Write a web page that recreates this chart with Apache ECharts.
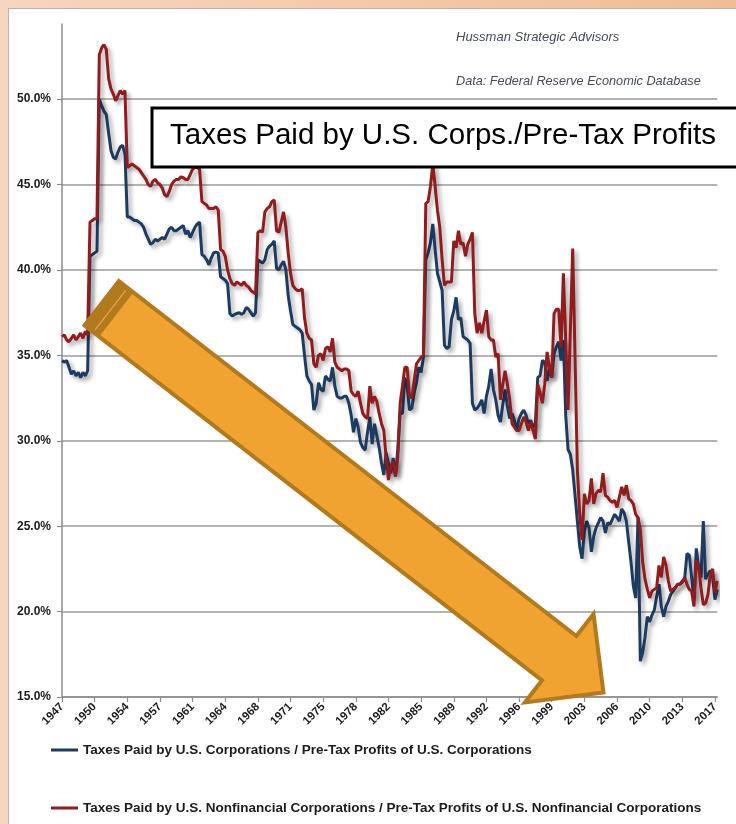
<!DOCTYPE html>
<html>
<head>
<meta charset="utf-8">
<script src="https://cdn.jsdelivr.net/npm/echarts@6/dist/echarts.min.js"></script>
<style>
html,body{margin:0;padding:0;width:736px;height:824px;overflow:hidden;}
body{background:linear-gradient(to right,#f6d6be,#f0bd95);position:relative;}
#paper{position:absolute;left:8px;top:8px;right:0;bottom:0;background:#fff;border-left:1px solid #b9b2ad;border-top:1px solid #b9b2ad;}
#chart{position:absolute;left:0;top:0;width:736px;height:824px;}
</style>
</head>
<body>
<div id="paper"></div>
<div id="chart"></div>
<script>
// Quarterly observations 1947Q1 .. 2017Q2
const startYear = 1947;
const xTickLabels = ['1947','1950','1954','1957','1961','1964','1968','1971','1975','1978','1982','1985','1989','1992','1996','1999','2003','2006','2010','2013','2017'];
const yTickValues = [15,20,25,30,35,40,45,50];

const seriesNames = [
  'Taxes Paid by U.S. Corporations / Pre-Tax Profits of U.S. Corporations',
  'Taxes Paid by U.S. Nonfinancial Corporations / Pre-Tax Profits of U.S. Nonfinancial Corporations'
];

const allCorps = [
34.7,34.6,34.7,34.3,33.9,34.1,33.8,34.0,33.7,34.0,
33.8,34.1,40.8,40.9,41.0,41.1,50.0,49.6,49.3,49.1,
48.0,47.0,46.6,46.5,46.9,47.2,47.3,46.8,43.1,43.1,
43.0,42.9,42.9,42.8,42.7,42.5,42.1,41.8,41.5,41.6,
41.8,41.7,41.8,41.9,41.8,42.1,42.4,42.5,42.3,42.3,
42.4,42.5,42.6,42.1,42.3,41.9,42.2,42.5,42.7,42.8,
40.9,40.8,40.6,40.3,40.7,41.0,41.05,41.0,39.6,39.5,
39.4,39.2,37.45,37.3,37.4,37.45,37.5,37.4,37.5,37.8,
37.7,37.5,37.3,37.5,40.6,40.5,40.4,40.6,41.2,41.4,
41.5,41.7,40.1,40.0,40.3,40.5,40.0,38.5,37.6,36.8,
36.7,36.6,36.5,36.3,35.0,33.8,33.5,33.3,31.8,32.2,
33.4,33.0,32.9,33.8,33.6,33.5,34.3,33.2,32.6,32.5,
32.5,32.6,32.6,32.2,31.5,30.5,31.3,30.8,29.9,29.6,
29.45,30.5,31.4,29.8,31.0,30.3,29.6,28.7,28.0,29.3,
28.7,28.1,29.0,28.0,29.5,31.6,31.6,33.7,33.2,31.8,
31.9,32.8,33.4,34.3,34.0,34.9,40.6,41.0,41.6,42.7,
41.2,39.8,39.3,38.8,35.6,35.4,35.5,37.1,37.6,38.4,
37.1,37.2,36.1,36.0,35.9,35.7,32.2,31.8,31.9,32.1,
32.4,31.6,32.6,33.2,34.2,33.0,32.4,31.5,31.1,32.1,
33.0,32.0,31.3,31.6,31.2,30.6,31.3,31.6,31.8,31.5,
31.0,31.2,30.8,31.0,33.7,33.8,34.7,34.6,33.5,34.2,
33.7,35.1,35.5,35.8,34.7,35.9,31.5,29.5,29.2,28.3,
26.8,25.3,23.8,23.1,24.7,25.3,24.9,23.5,24.4,24.9,
25.2,25.5,25.3,24.6,25.2,25.1,25.4,25.7,25.5,25.3,
26.0,25.8,25.3,24.1,22.9,21.5,20.8,25.5,17.1,17.6,
18.5,19.7,19.4,19.8,20.1,20.9,21.6,20.3,19.7,20.3,
20.6,21.0,21.2,21.4,21.6,21.6,21.8,21.9,23.4,23.3,
22.0,20.7,23.7,22.6,22.0,25.3,21.9,22.2,22.4,22.0,
20.7,21.3
];

const nonfinCorps = [
36.1,36.2,35.9,35.8,36.0,36.2,35.9,36.1,36.3,36.0,
36.4,36.2,42.8,42.9,43.0,43.0,52.6,53.0,53.2,52.9,
51.2,50.6,50.3,49.9,50.2,50.5,50.3,50.5,46.0,46.1,
46.2,46.1,46.0,45.9,45.7,45.5,45.3,45.0,44.9,45.2,
45.3,45.1,45.0,44.8,44.4,44.3,44.6,45.0,45.2,45.3,
45.3,45.45,45.4,45.3,45.3,45.6,45.9,46.0,46.0,45.9,
44.0,43.9,43.8,43.6,43.6,43.6,43.7,43.5,41.2,41.1,
40.8,40.0,39.5,39.2,39.1,39.3,39.2,39.1,39.3,39.1,
39.0,38.8,38.7,38.6,42.2,42.3,42.2,43.4,43.6,43.7,
44.0,44.1,42.3,42.2,42.8,43.4,42.5,41.0,39.8,39.1,
38.9,38.8,38.8,38.9,37.2,36.3,36.0,35.9,34.5,34.3,
35.0,35.1,34.7,35.4,35.5,35.2,36.0,34.6,34.3,34.2,
34.1,34.2,34.2,34.1,32.9,32.7,32.6,32.9,32.2,31.6,
31.4,31.3,33.2,32.2,32.6,32.3,31.6,31.0,30.6,29.0,
27.7,28.5,28.8,27.9,29.0,32.2,33.2,34.3,34.3,32.6,
32.5,33.5,34.5,34.7,34.9,35.0,43.9,44.0,44.9,46.2,
44.9,43.5,42.5,40.6,39.1,39.3,39.3,39.3,41.7,41.3,
42.3,41.5,41.6,40.8,41.5,41.8,42.2,37.45,36.3,36.9,
36.3,37.0,37.65,36.1,35.9,35.9,34.9,35.1,32.4,33.3,
34.1,33.3,32.4,31.0,30.8,30.6,30.6,31.0,31.4,31.1,
30.6,31.1,30.6,30.1,33.3,32.8,32.2,33.3,35.2,34.3,
33.7,37.45,37.7,37.7,35.5,39.8,35.9,31.8,36.5,41.25,
34.9,28.3,25.7,24.2,26.9,26.3,26.5,27.8,26.3,26.9,
27.1,27.0,28.1,26.8,26.7,26.5,26.4,26.5,26.1,26.7,
27.3,26.8,27.4,26.6,26.5,26.3,25.7,25.5,24.8,22.9,
21.9,21.3,20.8,21.2,21.3,21.4,22.7,22.0,23.2,22.7,
21.8,21.2,21.3,21.4,21.6,21.6,21.7,22.0,21.6,21.3,
21.2,20.3,23.0,22.6,21.4,20.4,20.5,21.0,22.2,22.5,
21.1,21.8
];

// category axis: one entry per quarter
const quarters = allCorps.map((_, i) => (startYear + Math.floor(i / 4)) + 'Q' + (i % 4 + 1));
const tickStep = 14;

const FONT = '"Liberation Sans",Arial,sans-serif';

// decorative arrow (annotation)
function arrowShapes() {
  const T = [101.7, 303.3];
  const th = 37.8 * Math.PI / 180;
  const u = [Math.cos(th), Math.sin(th)], n = [-Math.sin(th), Math.cos(th)];
  const P = (a, b) => [T[0] + a * u[0] + b * n[0], T[1] + a * u[1] + b * n[1]];
  const w = 28, hb = 579, hw = 56, tip = 635;
  const outline = [P(0,-w),P(hb,-w),P(hb,-hw),P(tip,0),P(hb,hw),P(hb,w),P(0,w)];
  const band = [P(0,-w),P(18,-w),P(18,w),P(0,w)];
  return [
    {type:'polygon', z:100, shape:{points:outline}, style:{fill:'#f0a331', stroke:'#b27a1f', lineWidth:4, lineJoin:'miter'}},
    {type:'polygon', z:101, shape:{points:band}, style:{fill:'#b27a1f', stroke:'#b27a1f', lineWidth:1}},
    {type:'polyline', z:102, shape:{points:[P(11,-w+3),P(11,w-3)]}, style:{stroke:'#e8a73d', lineWidth:1.2}}
  ];
}

const chart = echarts.init(document.getElementById('chart'), null, {renderer:'canvas'});
chart.setOption({
  animation:false,
  backgroundColor:'transparent',
  grid:{left:62, top:24, right:18.7, bottom:127, containLabel:false},
  legend:{
    orient:'vertical', left:46, top:737, itemGap:42, itemWidth:27, itemHeight:3, icon:'rect',
    textStyle:{fontFamily:FONT, fontSize:13.5, fontWeight:'bold', color:'#1c1c1c', lineHeight:16},
    data:seriesNames
  },
  xAxis:{
    type:'category', data:quarters, boundaryGap:false,
    axisLine:{lineStyle:{color:'#8c8c8c', width:1.5}},
    axisTick:{show:true, interval:tickStep-1, length:5, lineStyle:{color:'#8c8c8c', width:1.2}},
    axisLabel:{interval:tickStep-1, rotate:45, margin:8, fontFamily:FONT, fontSize:11.5, fontWeight:'bold', color:'#1c1c1c',
      formatter:(v, idx) => xTickLabels[Math.round(idx / tickStep)] || ''},
    splitLine:{show:false}
  },
  yAxis:{
    type:'value', min:15, max:54.4, interval:5,
    axisLine:{show:true, lineStyle:{color:'#8c8c8c', width:1.5}},
    axisTick:{show:true, length:5, customValues:yTickValues, lineStyle:{color:'#8c8c8c', width:1.2}},
    axisLabel:{margin:11, fontFamily:FONT, fontSize:12, fontWeight:'bold', color:'#1c1c1c', customValues:yTickValues,
      formatter:v => yTickValues.indexOf(v) >= 0 ? v.toFixed(1) + '%' : ''},
    splitLine:{show:true, lineStyle:{color:'#9a9a9a', width:1.5}}
  },
  series:[
    {name:seriesNames[0], type:'line', data:allCorps, showSymbol:false, symbol:'none', z:3,
      color:'#1d3b60',
      lineStyle:{color:'#1d3b60', width:3, shadowColor:'rgba(0,0,0,0.35)', shadowBlur:4, shadowOffsetX:3, shadowOffsetY:3}},
    {name:seriesNames[1], type:'line', data:nonfinCorps, showSymbol:false, symbol:'none', z:4,
      color:'#921b1e',
      lineStyle:{color:'#921b1e', width:3, shadowColor:'rgba(0,0,0,0.35)', shadowBlur:4, shadowOffsetX:3, shadowOffsetY:3}}
  ],
  graphic:[
    {type:'text', z:100, left:456, top:31, style:{text:'Hussman Strategic Advisors', fill:'#454a5c', font:'italic 13px ' + FONT}},
    {type:'text', z:100, left:456, top:75, style:{text:'Data: Federal Reserve Economic Database', fill:'#454a5c', font:'italic 12.7px ' + FONT}},
    {type:'rect', z:100, shape:{x:152, y:108, width:620, height:59}, style:{fill:'#fff', stroke:'#000', lineWidth:3}},
    {type:'text', z:101, left:170, top:121, style:{text:'Taxes Paid by U.S. Corps./Pre-Tax Profits', fill:'#000', font:'29.5px "Liberation Sans", Arial, sans-serif'}},
    ...arrowShapes()
  ]
});
</script>
</body>
</html>
